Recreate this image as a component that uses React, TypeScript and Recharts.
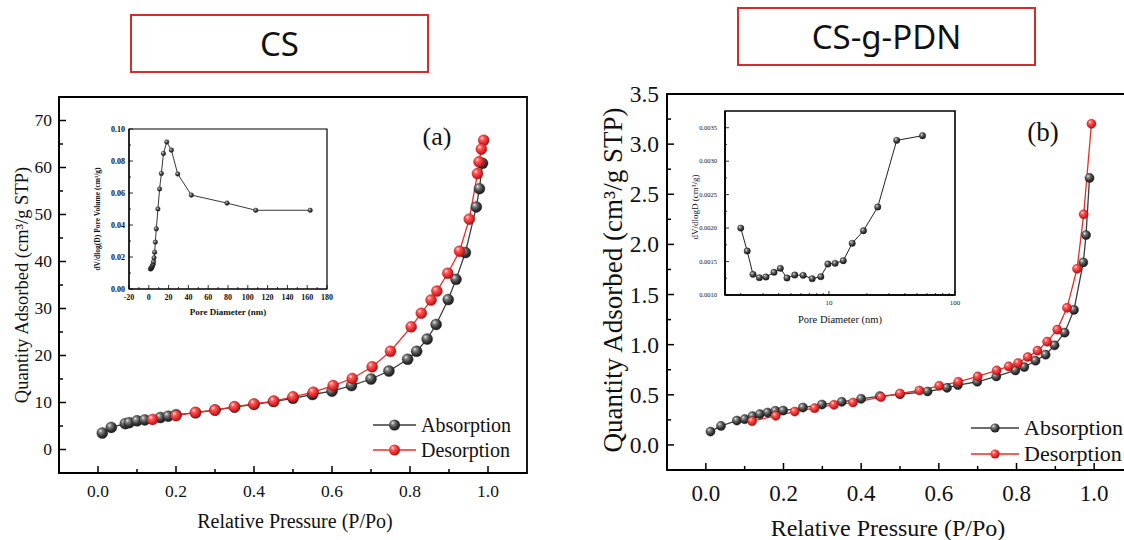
import React from "react";
import { LineChart, Line, XAxis, YAxis, ReferenceArea } from "recharts";

const SERIF = "'Liberation Serif', 'Times New Roman', serif";
const SANS = "'Noto Sans', 'Noto Sans CJK SC', sans-serif";

// ---- CS isotherm (panel a) ----
const csAdsP = [0.011, 0.034, 0.07, 0.08, 0.1, 0.12, 0.16, 0.18, 0.2, 0.25, 0.3, 0.35, 0.4, 0.45, 0.5, 0.55, 0.6, 0.65, 0.7, 0.746, 0.794, 0.817, 0.844, 0.867, 0.898, 0.918, 0.942, 0.97, 0.978, 0.986];
const csAdsQ = [3.5, 4.7, 5.5, 5.7, 6.1, 6.3, 6.8, 7.1, 7.4, 7.8, 8.4, 9.0, 9.6, 10.2, 10.9, 11.7, 12.4, 13.6, 15.0, 16.7, 19.2, 20.9, 23.5, 26.6, 31.9, 36.2, 41.9, 51.6, 55.5, 60.9];
const csDesP = [0.989, 0.983, 0.977, 0.973, 0.952, 0.927, 0.897, 0.869, 0.854, 0.829, 0.803, 0.75, 0.703, 0.652, 0.603, 0.552, 0.5, 0.451, 0.4, 0.35, 0.3, 0.25, 0.2, 0.14];
const csDesQ = [65.8, 63.9, 61.2, 58.7, 49.0, 42.2, 37.5, 33.7, 31.8, 29.0, 26.1, 20.9, 17.6, 15.1, 13.6, 12.2, 11.2, 10.3, 9.7, 9.1, 8.4, 7.9, 7.2, 6.4];

// CS pore size distribution (inset a)
const csPoreD = [1.7, 2.2, 2.7, 3.2, 3.7, 4.3, 4.8, 5.3, 5.9, 6.6, 7.6, 9.2, 10.9, 12.7, 14.8, 18.1, 22.8, 29.2, 43, 79, 108, 163];
const csPoreV = [0.0125, 0.0128, 0.0132, 0.0138, 0.0145, 0.0155, 0.017, 0.0195, 0.023, 0.0293, 0.0376, 0.05, 0.0625, 0.0722, 0.0847, 0.0919, 0.0868, 0.0719, 0.0587, 0.0537, 0.0492, 0.0492];

// ---- CS-g-PDN isotherm (panel b) ----
const pdnAdsP = [0.012, 0.039, 0.08, 0.1, 0.12, 0.139, 0.159, 0.179, 0.199, 0.25, 0.299, 0.35, 0.4, 0.448, 0.5, 0.571, 0.621, 0.649, 0.699, 0.748, 0.797, 0.82, 0.849, 0.875, 0.898, 0.924, 0.948, 0.972, 0.979, 0.988];
const pdnAdsQ = [0.133, 0.19, 0.243, 0.257, 0.287, 0.307, 0.323, 0.34, 0.343, 0.373, 0.403, 0.43, 0.46, 0.487, 0.505, 0.533, 0.57, 0.597, 0.63, 0.683, 0.743, 0.777, 0.84, 0.9, 0.993, 1.12, 1.347, 1.82, 2.093, 2.663];
const pdnDesP = [0.993, 0.973, 0.956, 0.93, 0.905, 0.879, 0.854, 0.829, 0.804, 0.78, 0.749, 0.7, 0.65, 0.601, 0.55, 0.5, 0.451, 0.379, 0.33, 0.28, 0.229, 0.18, 0.119];
const pdnDesQ = [3.203, 2.3, 1.757, 1.367, 1.15, 1.03, 0.94, 0.877, 0.817, 0.783, 0.743, 0.683, 0.63, 0.59, 0.543, 0.513, 0.477, 0.423, 0.4, 0.367, 0.333, 0.29, 0.237];

// CS-g-PDN pore size distribution (inset b)
const pdnPoreD = [2.0, 2.25, 2.5, 2.81, 3.17, 3.67, 4.12, 4.65, 5.36, 6.25, 7.37, 8.63, 9.82, 11.2, 13.0, 15.3, 18.8, 24.4, 34.5, 55.3];
const pdnPoreV = [0.002, 0.001657, 0.001309, 0.001259, 0.001269, 0.001339, 0.001398, 0.001254, 0.001299, 0.001294, 0.001244, 0.001274, 0.001463, 0.001473, 0.001513, 0.001772, 0.001961, 0.002315, 0.003311, 0.003381];

// ticks
const pressureTicks = [0, 0.1, 0.2, 0.3, 0.4, 0.5, 0.6, 0.7, 0.8, 0.9, 1.0];
const csQTicks = [0, 5, 10, 15, 20, 25, 30, 35, 40, 45, 50, 55, 60, 65, 70];
const pdnQTicks = [0, 0.25, 0.5, 0.75, 1.0, 1.25, 1.5, 1.75, 2.0, 2.25, 2.5, 2.75, 3.0, 3.25, 3.5];
const csDTicks = [-20, -10, 0, 10, 20, 30, 40, 50, 60, 70, 80, 90, 100, 110, 120, 130, 140, 150, 160, 170, 180];
const csVTicks = [0, 0.01, 0.02, 0.03, 0.04, 0.05, 0.06, 0.07, 0.08, 0.09, 0.1];
const pdnDTicks = [2, 3, 4, 5, 6, 7, 8, 9, 10, 20, 30, 40, 50, 60, 70, 80, 90, 100];
const pdnVTicks = [0.001, 0.00125, 0.0015, 0.00175, 0.002, 0.00225, 0.0025, 0.00275, 0.003, 0.00325, 0.0035];

const zip = (xs: number[], ys: number[]) => xs.map((x, i) => ({ x, y: ys[i] }));
const isMult = (v: number, step: number) => Math.abs(v / step - Math.round(v / step)) < 1e-6;

interface TickCfg {
  dir: "x" | "y";
  major: (v: number) => boolean;
  fmt: (v: number) => string;
  len: number;
  minorLen: number;
  fontSize: number;
  offset: number;
  weight?: number | string;
  sw: number;
}

// inward ticks, minor ones shorter and without label
const makeTick = (cfg: TickCfg) => (p: any) => {
  const v = p.payload.value;
  const big = cfg.major(v);
  const L = big ? cfg.len : cfg.minorLen;
  const textProps = { fontFamily: SERIF, fontSize: cfg.fontSize, fontWeight: cfg.weight ?? "normal", fill: "#111" };
  if (cfg.dir === "x") {
    return (
      <g key={`t${v}`}>
        <line x1={p.x} x2={p.x} y1={p.y} y2={p.y - L} stroke="#000" strokeWidth={cfg.sw} />
        {big && (
          <text x={p.x} y={p.y + cfg.offset} textAnchor="middle" {...textProps}>
            {cfg.fmt(v)}
          </text>
        )}
      </g>
    );
  }
  return (
    <g key={`t${v}`}>
      <line x1={p.x} x2={p.x + L} y1={p.y} y2={p.y} stroke="#000" strokeWidth={cfg.sw} />
      {big && (
        <text x={p.x - cfg.offset} y={p.y + cfg.fontSize * 0.34} textAnchor="end" {...textProps}>
          {cfg.fmt(v)}
        </text>
      )}
    </g>
  );
};

const ball = (grad: string, r: number, stroke: string) => (p: any) => (
  <circle key={`b${p.index}`} cx={p.cx} cy={p.cy} r={r} fill={`url(#${grad})`} stroke={stroke} strokeWidth={0.4} />
);

const DARK = "#3c3c3c";
const RED = "#e5302b";

function Text({ x, y, size, children, rotate, weight, family }: any) {
  return (
    <div
      style={{
        position: "absolute",
        left: x,
        top: y,
        transform: `translate(-50%, -50%)${rotate ? " rotate(-90deg)" : ""}`,
        whiteSpace: "nowrap",
        fontFamily: family ?? SERIF,
        fontSize: size,
        fontWeight: weight ?? "normal",
        color: "#111",
        lineHeight: 1,
      }}
    >
      {children}
    </div>
  );
}

function LegendRow({ x, y, w, r, grad, color, label, size }: any) {
  return (
    <div style={{ position: "absolute", left: x, top: y - 12, height: 24, display: "flex", alignItems: "center" }}>
      <svg width={w} height={24}>
        <line x1={0} x2={w} y1={12} y2={12} stroke={color} strokeWidth={1.5} />
        <circle cx={w / 2} cy={12} r={r} fill={`url(#${grad})`} />
      </svg>
      <span style={{ fontFamily: SERIF, fontSize: size, marginLeft: 5, color: "#111" }}>{label}</span>
    </div>
  );
}

function TitleBox({ x, y, w, h, label }: any) {
  return (
    <div
      style={{
        position: "absolute",
        left: x,
        top: y,
        width: w,
        height: h,
        boxSizing: "border-box",
        border: "2px solid #d42b2b",
        display: "flex",
        alignItems: "center",
        justifyContent: "center",
        fontFamily: SANS,
        fontSize: 33,
        color: "#111",
      }}
    >
      {label}
    </div>
  );
}

export default function App() {
  const axisMain = { stroke: "#000", strokeWidth: 1.8 };
  return (
    <div style={{ position: "absolute", left: 0, top: 0, width: 1124, height: 540, overflow: "hidden", background: "#fff" }}>
      <svg width={0} height={0} style={{ position: "absolute" }}>
        <defs>
          <radialGradient id="ballDark" cx="0.4" cy="0.38" r="0.62" fx="0.33" fy="0.3">
            <stop offset="0" stopColor="#e8e8e8" />
            <stop offset="0.3" stopColor="#7d7d7d" />
            <stop offset="0.7" stopColor="#363636" />
            <stop offset="1" stopColor="#1a1a1a" />
          </radialGradient>
          <radialGradient id="ballRed" cx="0.4" cy="0.38" r="0.62" fx="0.33" fy="0.3">
            <stop offset="0" stopColor="#ffe4e4" />
            <stop offset="0.3" stopColor="#ff5c5c" />
            <stop offset="0.7" stopColor="#e3292a" />
            <stop offset="1" stopColor="#a81616" />
          </radialGradient>
        </defs>
      </svg>

      <TitleBox x={130} y={14} w={299} h={59} label="CS" />
      <TitleBox x={737} y={7} w={299} h={59} label="CS-g-PDN" />

      {/* panel a */}
      <div style={{ position: "absolute", left: 0, top: 0 }}>
        <LineChart width={560} height={540} margin={{ top: 97, right: 33, left: 0, bottom: 0 }}>
          <XAxis
            type="number"
            dataKey="x"
            domain={[-0.1, 1.1]}
            allowDataOverflow
            ticks={pressureTicks}
            interval={0}
            tickSize={0}
            tickMargin={0}
            tickLine={false}
            axisLine={axisMain}
            height={67}
            tick={makeTick({ dir: "x", major: (v) => isMult(v, 0.2), fmt: (v) => v.toFixed(1), len: 7, minorLen: 4, fontSize: 17.5, offset: 24, sw: 1.5 })}
          />
          <YAxis
            type="number"
            domain={[-5, 75]}
            allowDataOverflow
            ticks={csQTicks}
            interval={0}
            tickSize={0}
            tickMargin={0}
            tickLine={false}
            axisLine={axisMain}
            width={59}
            tick={makeTick({ dir: "y", major: (v) => isMult(v, 10), fmt: (v) => String(v), len: 7, minorLen: 4, fontSize: 17.5, offset: 7, sw: 1.5 })}
          />
          <ReferenceArea x1={-0.1} x2={1.1} y1={-5} y2={75} fill="none" stroke="#000" strokeWidth={1.8} />
          <Line data={zip(csAdsP, csAdsQ)} dataKey="y" stroke={DARK} strokeWidth={1.3} dot={ball("ballDark", 5.5, "#222")} activeDot={false} isAnimationActive={false} />
          <Line data={zip(csDesP, csDesQ)} dataKey="y" stroke={RED} strokeWidth={1.3} dot={ball("ballRed", 5.5, "#a01010")} activeDot={false} isAnimationActive={false} />
        </LineChart>
      </div>

      {/* inset a */}
      <div style={{ position: "absolute", left: 60, top: 110 }}>
        <LineChart width={280} height={220} margin={{ top: 19, right: 13, left: 0, bottom: 0 }}>
          <XAxis
            type="number"
            dataKey="x"
            domain={[-20, 180]}
            allowDataOverflow
            ticks={csDTicks}
            interval={0}
            tickSize={0}
            tickMargin={0}
            tickLine={false}
            axisLine={{ stroke: "#000", strokeWidth: 1.2 }}
            height={41}
            tick={makeTick({ dir: "x", major: (v) => isMult(v, 20), fmt: (v) => String(v), len: 4, minorLen: 2, fontSize: 8, offset: 11, weight: "bold", sw: 0.8 })}
          />
          <YAxis
            type="number"
            domain={[0, 0.1]}
            allowDataOverflow
            ticks={csVTicks}
            interval={0}
            tickSize={0}
            tickMargin={0}
            tickLine={false}
            axisLine={{ stroke: "#000", strokeWidth: 1.2 }}
            width={69}
            tick={makeTick({ dir: "y", major: (v) => isMult(v, 0.02), fmt: (v) => v.toFixed(2), len: 4, minorLen: 2, fontSize: 8, offset: 4, weight: "bold", sw: 0.8 })}
          />
          <ReferenceArea x1={-20} x2={180} y1={0} y2={0.1} fill="none" stroke="#000" strokeWidth={1.2} />
          <Line data={zip(csPoreD, csPoreV)} dataKey="y" stroke="#222" strokeWidth={0.9} dot={ball("ballDark", 2.3, "#111")} activeDot={false} isAnimationActive={false} />
        </LineChart>
      </div>

      {/* panel b */}
      <div style={{ position: "absolute", left: 580, top: 0 }}>
        <LineChart width={560} height={540} margin={{ top: 94, right: 7, left: 0, bottom: 0 }}>
          <XAxis
            type="number"
            dataKey="x"
            domain={[-0.1, 1.1]}
            allowDataOverflow
            ticks={pressureTicks}
            interval={0}
            tickSize={0}
            tickMargin={0}
            tickLine={false}
            axisLine={axisMain}
            height={70}
            tick={makeTick({ dir: "x", major: (v) => isMult(v, 0.2), fmt: (v) => v.toFixed(1), len: 7, minorLen: 4, fontSize: 23, offset: 31, sw: 1.5 })}
          />
          <YAxis
            type="number"
            domain={[-0.25, 3.5]}
            allowDataOverflow
            ticks={pdnQTicks}
            interval={0}
            tickSize={0}
            tickMargin={0}
            tickLine={false}
            axisLine={axisMain}
            width={87}
            tick={makeTick({ dir: "y", major: (v) => isMult(v, 0.5), fmt: (v) => v.toFixed(1), len: 7, minorLen: 4, fontSize: 23.5, offset: 8, sw: 1.5 })}
          />
          <ReferenceArea x1={-0.1} x2={1.1} y1={-0.25} y2={3.5} fill="none" stroke="#000" strokeWidth={1.8} />
          <Line data={zip(pdnAdsP, pdnAdsQ)} dataKey="y" stroke={DARK} strokeWidth={1.3} dot={ball("ballDark", 4.6, "#222")} activeDot={false} isAnimationActive={false} />
          <Line data={zip(pdnDesP, pdnDesQ)} dataKey="y" stroke={RED} strokeWidth={1.3} dot={ball("ballRed", 4.6, "#a01010")} activeDot={false} isAnimationActive={false} />
        </LineChart>
      </div>

      {/* inset b */}
      <div style={{ position: "absolute", left: 680, top: 100 }}>
        <LineChart width={290} height={240} margin={{ top: 11, right: 15, left: 0, bottom: 0 }}>
          <XAxis
            type="number"
            dataKey="x"
            scale="log"
            domain={[1.5, 100]}
            allowDataOverflow
            ticks={pdnDTicks}
            interval={0}
            tickSize={0}
            tickMargin={0}
            tickLine={false}
            axisLine={{ stroke: "#000", strokeWidth: 1.6 }}
            height={45}
            tick={makeTick({ dir: "x", major: (v) => v === 10 || v === 100, fmt: (v) => String(v), len: 4, minorLen: 2, fontSize: 7, offset: 10, sw: 0.8 })}
          />
          <YAxis
            type="number"
            domain={[0.001, 0.00375]}
            allowDataOverflow
            ticks={pdnVTicks}
            interval={0}
            tickSize={0}
            tickMargin={0}
            tickLine={false}
            axisLine={{ stroke: "#000", strokeWidth: 1.6 }}
            width={45}
            tick={makeTick({ dir: "y", major: (v) => isMult(v, 0.0005), fmt: (v) => v.toFixed(4), len: 4, minorLen: 2, fontSize: 6.5, offset: 8, sw: 0.8 })}
          />
          <ReferenceArea x1={1.5} x2={100} y1={0.001} y2={0.00375} fill="none" stroke="#000" strokeWidth={1.6} />
          <Line data={zip(pdnPoreD, pdnPoreV)} dataKey="y" stroke="#222" strokeWidth={1} dot={ball("ballDark", 3.2, "#111")} activeDot={false} isAnimationActive={false} />
        </LineChart>
      </div>

      {/* axis titles and annotations */}
      <Text x={22} y={285} size={18.5} rotate>Quantity Adsorbed (cm³/g STP)</Text>
      <Text x={295} y={521} size={20}>Relative Pressure (P/Po)</Text>
      <Text x={437} y={137} size={26}>(a)</Text>
      <Text x={98} y={219} size={7.5} weight="bold" rotate>dV/dlog(D) Pore Volume (cm³/g)</Text>
      <Text x={228} y={312} size={9} weight="bold">Pore Diameter (nm)</Text>

      <Text x={613} y={280} size={27} rotate>Quantity Adsorbed (cm³/g STP)</Text>
      <Text x={888} y={528} size={24}>Relative Pressure (P/Po)</Text>
      <Text x={1043} y={132} size={27}>(b)</Text>
      <Text x={695} y={207} size={9} rotate>dV/dlogD (cm³/g)</Text>
      <Text x={840} y={320} size={10.5}>Pore Diameter (nm)</Text>

      <LegendRow x={373} y={425} w={43} r={5.5} grad="ballDark" color={DARK} label="Absorption" size={20} />
      <LegendRow x={373} y={450} w={43} r={5.5} grad="ballRed" color={RED} label="Desorption" size={20} />
      <LegendRow x={971} y={428} w={48} r={4.6} grad="ballDark" color={DARK} label="Absorption" size={22} />
      <LegendRow x={971} y={454} w={48} r={4.6} grad="ballRed" color={RED} label="Desorption" size={22} />
    </div>
  );
}
